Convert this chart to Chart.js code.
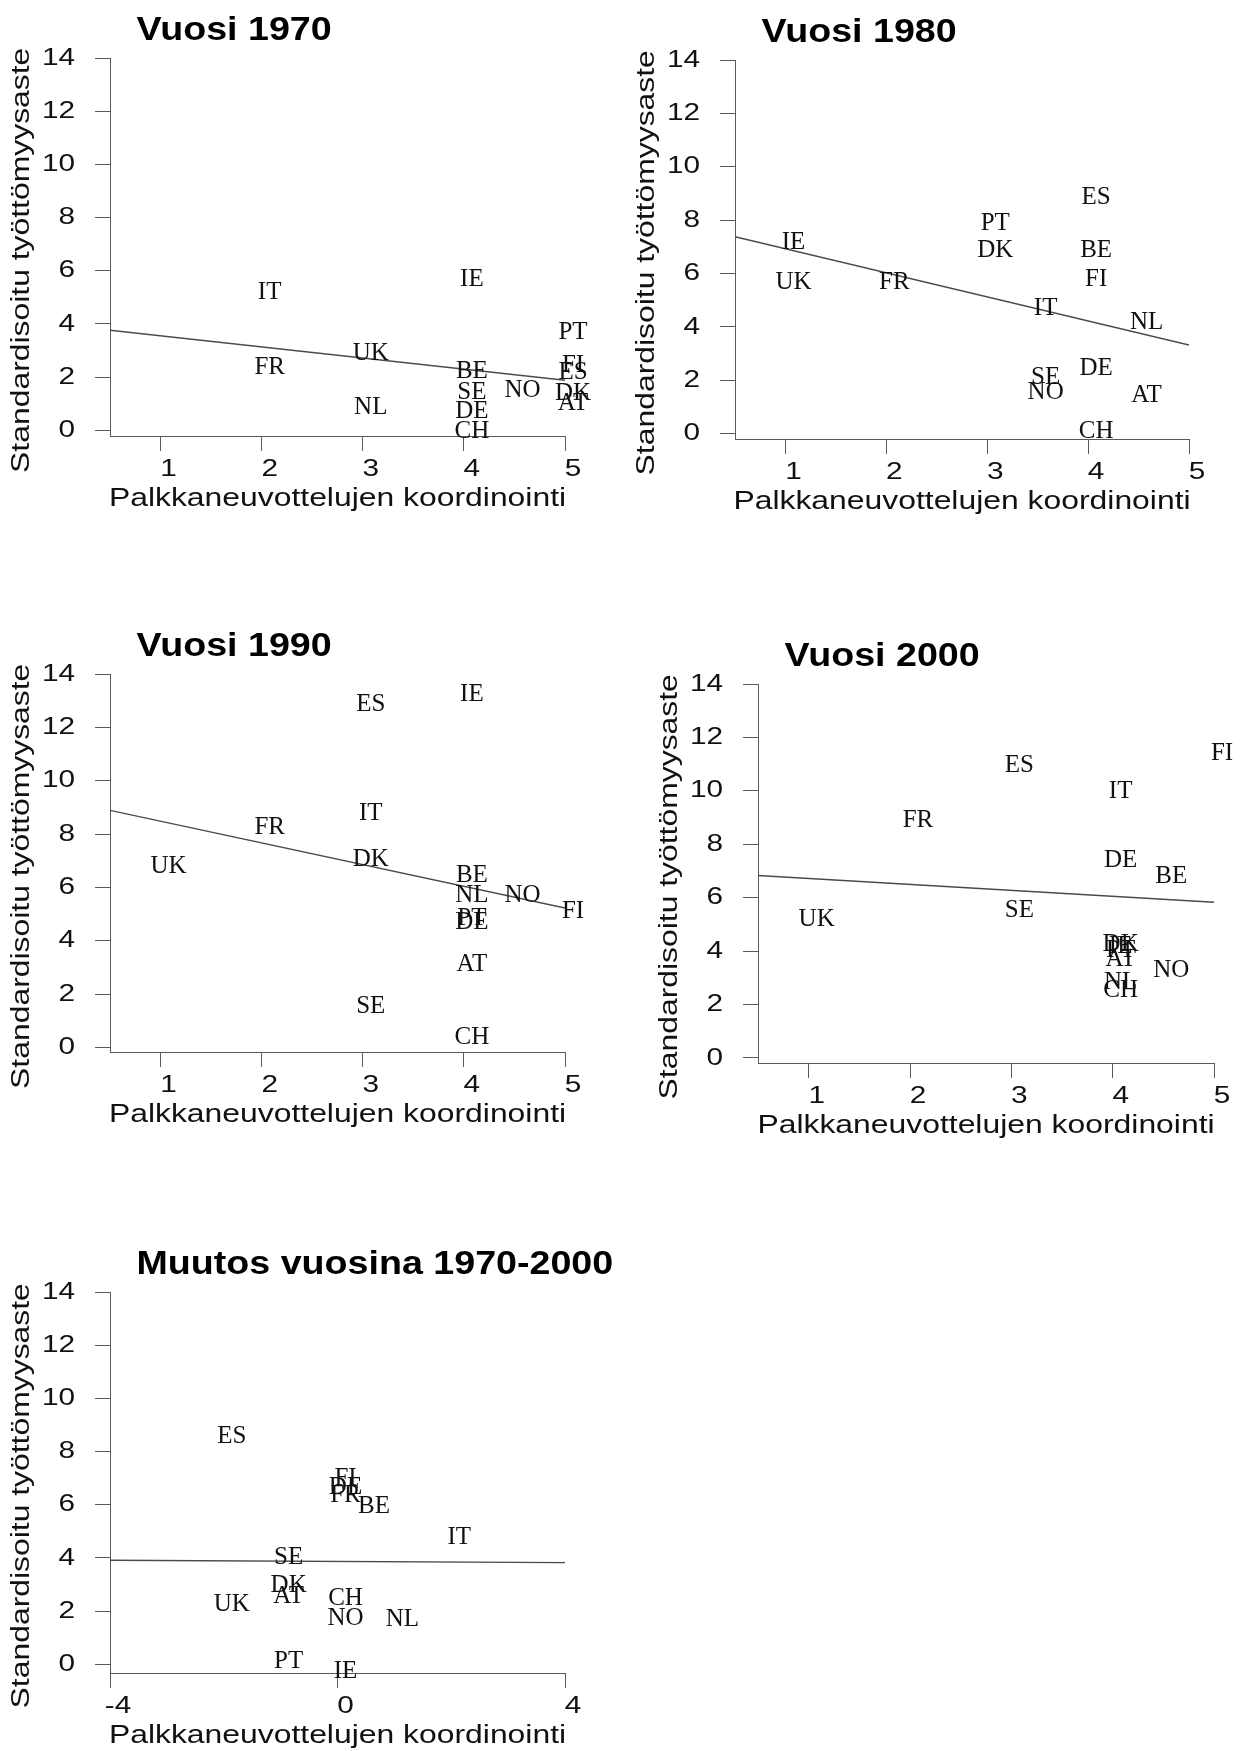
<!DOCTYPE html>
<html>
<head>
<meta charset="utf-8">
<script src="https://cdn.jsdelivr.net/npm/chart.js@4.4.1/dist/chart.umd.min.js"></script>
<style>
  html, body { margin: 0; padding: 0; background: #ffffff; }
  #page { position: relative; width: 1244px; height: 1751px; overflow: hidden; background: #ffffff; }
  #page canvas { position: absolute; }
</style>
</head>
<body>
<div id="page"></div>
<script>
// ---------------- DATA ----------------
const countries1970 = ['IT', 'FR', 'UK', 'NL', 'IE', 'BE', 'SE', 'DE', 'CH', 'NO', 'PT', 'FI', 'ES', 'DK', 'AT'];
const coord1970     = [2, 2, 3, 3, 4, 4, 4, 4, 4, 4.5, 5, 5, 5, 5, 5];
const unemp1970     = [5.25, 2.42, 2.94, 0.93, 5.72, 2.27, 1.49, 0.77, 0.02, 1.56, 3.75, 2.52, 2.25, 1.46, 1.08];
const fitX1970 = [0.5, 5];
const fitY1970 = [3.76, 1.88];

const countries1980 = ['IE', 'UK', 'FR', 'PT', 'DK', 'ES', 'BE', 'FI', 'IT', 'NL', 'DE', 'SE', 'NO', 'AT', 'CH'];
const coord1980     = [1, 1, 2, 3, 3, 4, 4, 4, 3.5, 4.5, 4, 3.5, 3.5, 4.5, 4];
const unemp1980     = [7.23, 5.73, 5.73, 7.95, 6.94, 8.93, 6.94, 5.83, 4.76, 4.24, 2.5, 2.19, 1.6, 1.5, 0.15];
const fitX1980 = [0.5, 5];
const fitY1980 = [7.38, 3.32];

const countries1990 = ['IE', 'ES', 'IT', 'FR', 'DK', 'UK', 'BE', 'NL', 'NO', 'FI', 'PT', 'DE', 'AT', 'SE', 'CH'];
const coord1990     = [4, 3, 3, 2, 3, 1, 4, 4, 4.5, 5, 4, 4, 4, 3, 4];
const unemp1990     = [13.3, 12.92, 8.85, 8.33, 7.13, 6.85, 6.52, 5.78, 5.75, 5.17, 4.9, 4.75, 3.16, 1.61, 0.45];
const fitX1990 = [0.5, 5];
const fitY1990 = [8.89, 5.23];

const countries2000 = ['FI', 'ES', 'IT', 'FR', 'DE', 'BE', 'SE', 'UK', 'DK', 'IE', 'PT', 'AT', 'NO', 'NL', 'CH'];
const coord2000     = [5, 3, 4, 2, 4, 4.5, 3, 1, 4, 4, 4, 4, 4.5, 4, 4];
const unemp2000     = [11.45, 11.02, 10.03, 8.94, 7.45, 6.86, 5.57, 5.25, 4.3, 4.25, 4.1, 3.75, 3.35, 2.9, 2.6];
const fitX2000 = [0.5, 5];
const fitY2000 = [6.83, 5.83];

const countriesChange = ['ES', 'FI', 'DE', 'FR', 'BE', 'IT', 'SE', 'DK', 'AT', 'UK', 'CH', 'NO', 'NL', 'PT', 'IE'];
const coordChange     = [-2, 0, 0, 0, 0.5, 2, -1, -1, -1, -2, 0, 0, 1, -1, 0];
const unempChange     = [8.65, 7.05, 6.72, 6.4, 6.0, 4.83, 4.07, 3.03, 2.6, 2.3, 2.55, 1.8, 1.76, 0.18, -0.22];
const fitXChange = [-4, 4];
const fitYChange = [3.91, 3.82];

const xTickValues = [1, 2, 3, 4, 5];
const xTickLabels = ['1', '2', '3', '4', '5'];
const changeXTickValues = [-4, 0, 4];
const changeXTickLabels = ['-4', '0', '4'];
const yTickValues = [0, 2, 4, 6, 8, 10, 12, 14];
const yTickLabels = ['0', '2', '4', '6', '8', '10', '12', '14'];

const panelTitles = ['Vuosi 1970', 'Vuosi 1980', 'Vuosi 1990', 'Vuosi 2000', 'Muutos vuosina 1970-2000'];
const xAxisTitle = 'Palkkaneuvottelujen koordinointi';
const yAxisTitle = 'Standardisoitu työttömyysaste';

// ---------------- STYLE ----------------
const SANS = "'Liberation Sans', Arial, Helvetica, sans-serif";
const SERIF = "'Liberation Serif', 'Times New Roman', serif";
const TEXT = '#111111';
const AXIS = '#5a5a5a';
const FITLINE = '#4a4a4a';
const TICK_STRETCH = 1.24;
const TITLE_STRETCH = 1.275;
const BOLD_STRETCH = 1.14;
const YW = 110, PT = 50, XH = 80;

// panel layout boxes (plot area in page pixels) and axis ranges
const panels = [
  { title: panelTitles[0], labels: countries1970, xs: coord1970, ys: unemp1970, fx: fitX1970, fy: fitY1970,
    xMin: 0.5, xMax: 5, yMin: -0.214, xt: xTickValues, xl: xTickLabels, pr: 30, area: { l: 110, t: 58, r: 565, b: 436 } },
  { title: panelTitles[1], labels: countries1980, xs: coord1980, ys: unemp1980, fx: fitX1980, fy: fitY1980,
    xMin: 0.5, xMax: 5, yMin: -0.2, xt: xTickValues, xl: xTickLabels, pr: 30, area: { l: 735, t: 60, r: 1189, b: 439 } },
  { title: panelTitles[2], labels: countries1990, xs: coord1990, ys: unemp1990, fx: fitX1990, fy: fitY1990,
    xMin: 0.5, xMax: 5, yMin: -0.17, xt: xTickValues, xl: xTickLabels, pr: 30, area: { l: 110, t: 674, r: 565, b: 1052 } },
  { title: panelTitles[3], labels: countries2000, xs: coord2000, ys: unemp2000, fx: fitX2000, fy: fitY2000,
    xMin: 0.5, xMax: 5, yMin: -0.19, xt: xTickValues, xl: xTickLabels, pr: 30, area: { l: 758, t: 684, r: 1214, b: 1063 } },
  { title: panelTitles[4], labels: countriesChange, xs: coordChange, ys: unempChange, fx: fitXChange, fy: fitYChange,
    xMin: -4, xMax: 4, yMin: -0.33, xt: changeXTickValues, xl: changeXTickLabels, pr: 90, area: { l: 110, t: 1292, r: 565, b: 1673 } }
];

// Render sans-serif text with the wide proportions of the original figure
function widenText(ctx) {
  const orig = ctx.fillText;
  ctx.fillText = function (text, x, y, maxWidth) {
    const f = this.font || '';
    if (f.indexOf('Liberation Serif') >= 0) {
      return orig.call(this, text, x, y);
    }
    let s = TICK_STRETCH;
    if (/bold|700/.test(f)) s = BOLD_STRETCH;
    else if (f.indexOf('25px') >= 0) s = TITLE_STRETCH;
    this.save();
    this.translate(x, y);
    this.scale(s, 1);
    orig.call(this, text, 0, 0);
    this.restore();
  };
}

const countryLabels = {
  id: 'countryLabels',
  afterDatasetsDraw(chart, args, opts) {
    const meta = chart.getDatasetMeta(0);
    const ctx = chart.ctx;
    ctx.save();
    ctx.font = '25px ' + SERIF;
    ctx.fillStyle = TEXT;
    ctx.textAlign = 'center';
    ctx.textBaseline = 'alphabetic';
    meta.data.forEach((el, i) => {
      ctx.fillText(opts.labels[i], el.x + 8, el.y + 8.3);
    });
    ctx.restore();
  }
};

const panelTitle = {
  id: 'panelTitle',
  afterDraw(chart, args, opts) {
    const ctx = chart.ctx;
    const a = chart.chartArea;
    ctx.save();
    ctx.font = 'bold 33px ' + SANS;
    ctx.fillStyle = '#000000';
    ctx.textAlign = 'left';
    ctx.textBaseline = 'alphabetic';
    ctx.fillText(opts.text, a.left + 26.5, a.top - 18);
    ctx.restore();
  }
};

const page = document.getElementById('page');

panels.forEach(p => {
  const cv = document.createElement('canvas');
  const w = Math.round(p.area.r - p.area.l + YW + p.pr);
  const h = Math.round(p.area.b - p.area.t + PT + XH);
  cv.width = w;
  cv.height = h;
  cv.style.width = w + 'px';
  cv.style.height = h + 'px';
  cv.style.left = (p.area.l - YW) + 'px';
  cv.style.top = (p.area.t - PT) + 'px';
  page.appendChild(cv);
  const ctx = cv.getContext('2d');
  widenText(ctx);

  const gridOpts = { display: true, drawOnChartArea: false, drawTicks: true, tickLength: 15, color: AXIS, lineWidth: 1 };
  const borderOpts = { display: true, color: AXIS, width: 1 };

  new Chart(ctx, {
    type: 'scatter',
    data: {
      datasets: [
        {
          type: 'scatter',
          data: p.xs.map((x, i) => ({ x: x, y: p.ys[i] })),
          pointRadius: 0,
          pointHoverRadius: 0,
          showLine: false
        },
        {
          type: 'line',
          data: p.fx.map((x, i) => ({ x: x, y: p.fy[i] })),
          borderColor: FITLINE,
          borderWidth: 1.4,
          pointRadius: 0,
          fill: false,
          tension: 0
        }
      ]
    },
    options: {
      responsive: false,
      animation: false,
      events: [],
      layout: { padding: { left: 0, top: PT, right: p.pr, bottom: 0 } },
      plugins: {
        legend: { display: false },
        tooltip: { enabled: false },
        title: { display: false },
        countryLabels: { labels: p.labels },
        panelTitle: { text: p.title }
      },
      scales: {
        x: {
          type: 'linear',
          position: 'bottom',
          min: p.xMin,
          max: p.xMax,
          bounds: 'data',
          afterBuildTicks: s => { s.ticks = p.xt.map(v => ({ value: v })); },
          afterFit: s => { s.height = XH; },
          grid: gridOpts,
          border: borderOpts,
          ticks: {
            autoSkip: false, maxRotation: 0, minRotation: 0, padding: 6.5, labelOffset: 8,
            color: TEXT, font: { family: SANS, size: 24, lineHeight: 1 },
            callback: (v, i) => p.xl[i]
          },
          title: {
            display: true, text: xAxisTitle, color: TEXT,
            font: { family: SANS, size: 25, lineHeight: 1 },
            padding: { top: 0, bottom: 4.3 }
          }
        },
        y: {
          type: 'linear',
          position: 'left',
          min: p.yMin,
          max: 14,
          bounds: 'data',
          afterBuildTicks: s => { s.ticks = yTickValues.map(v => ({ value: v })); },
          afterFit: s => { s.width = YW; },
          grid: gridOpts,
          border: borderOpts,
          ticks: {
            autoSkip: false, padding: 20,
            color: TEXT, font: { family: SANS, size: 24, lineHeight: 1 },
            callback: (v, i) => yTickLabels[i]
          },
          title: {
            display: true, text: yAxisTitle + '   ', color: TEXT,
            font: { family: SANS, size: 25, lineHeight: 1 },
            padding: { top: 9.5, bottom: 0 }
          }
        }
      }
    },
    plugins: [countryLabels, panelTitle]
  });
});
</script>
</body>
</html>
